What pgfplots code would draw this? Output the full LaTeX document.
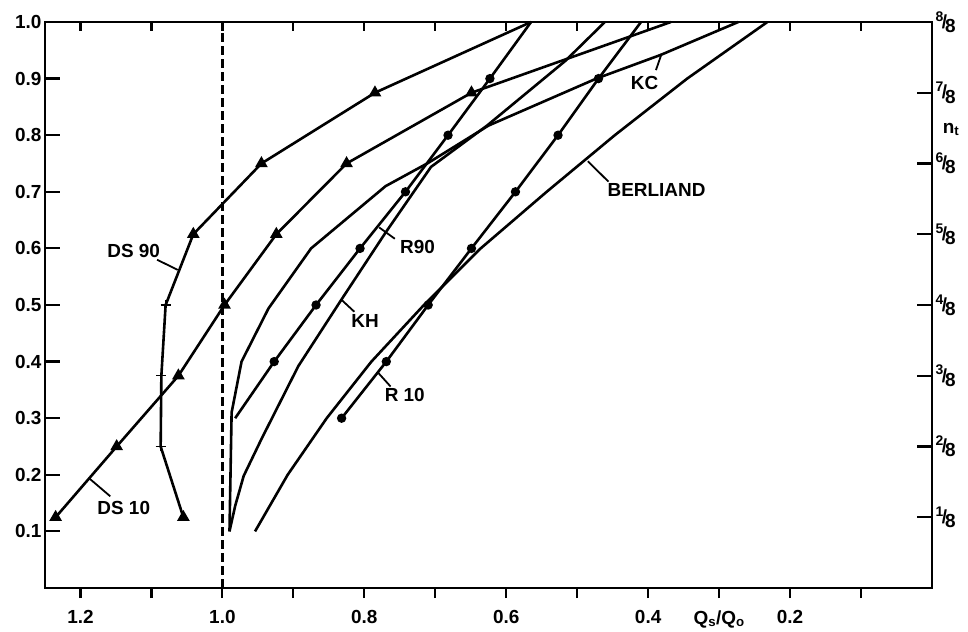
\documentclass[border=0pt]{standalone}
\usepackage{fontspec}
\setmainfont{Liberation Sans}
\usepackage{pgfplots}
\pgfplotsset{compat=1.18}
\newcommand\fr[2]{\raisebox{0.38em}{\fontsize{14}{14}\selectfont #1}\kern-0.08em/\kern-0.1em\raisebox{-0.22em}{#2}}
\newcommand\lab{\bfseries\fontsize{19}{19}\selectfont}
\pgfplotsset{common/.style={scale only axis, width=887bp, height=566bp,
  xmin=0, xmax=1.25, ymin=0, ymax=1, x dir=reverse, clip=false,
  at={(0,0)}, anchor=south west,
  ticklabel style={font=\lab},
  axis line style={line width=2.8bp},
  tick style={line width=2.2bp, black}}}
\begin{document}
\begin{tikzpicture}
% main axis with data and left ticks
\begin{axis}[common, name=ax, xtick=\empty,
  ytick={0.1,0.2,0.3,0.4,0.5,0.6,0.7,0.8,0.9,1.0},
  yticklabels={0.1,0.2,0.3,0.4,0.5,0.6,0.7,0.8,0.9,1.0},
  ytick pos=left, tick align=inside, major tick length=15bp,
  every axis plot/.append style={line width=2.6bp, black}]
% reference line at Qs/Qo = 1
\addplot[line width=2.4bp, dash pattern=on 9bp off 4bp] coordinates {(1,0) (1,1)};
% DS 90
\addplot[mark=none] coordinates {(1.055,0.125) (1.087,0.25) (1.086,0.375) (1.080,0.5) (1.041,0.625) (0.945,0.75) (0.785,0.875) (0.565,1.0)};
\addplot[only marks, mark=triangle*, mark size=4.8bp] coordinates {(1.055,0.125) (1.041,0.625) (0.945,0.75) (0.785,0.875)};
\addplot[only marks, mark=+, mark size=5bp, mark options={line width=1.4bp}] coordinates {(1.087,0.25) (1.086,0.375) (1.080,0.5)};
% DS 10
\addplot[mark=triangle*, mark size=4.8bp] coordinates {(1.235,0.125) (1.149,0.25) (1.062,0.375) (0.997,0.5) (0.924,0.625) (0.825,0.75) (0.649,0.875)};
\addplot[mark=none] coordinates {(0.649,0.875) (0.368,1.0)};
% R 90
\addplot[mark=none] coordinates {(0.982,0.3) (0.927,0.4) (0.868,0.5) (0.806,0.6) (0.742,0.7) (0.682,0.8) (0.623,0.9) (0.565,1.0)};
\addplot[only marks, mark=*, mark size=3.3bp] coordinates {(0.927,0.4) (0.868,0.5) (0.806,0.6) (0.742,0.7) (0.682,0.8) (0.623,0.9)};
% R 10
\addplot[mark=none] coordinates {(0.832,0.3) (0.769,0.4) (0.710,0.5) (0.649,0.6) (0.587,0.7) (0.527,0.8) (0.470,0.9) (0.410,1.0)};
\addplot[only marks, mark=*, mark size=3.3bp] coordinates {(0.832,0.3) (0.769,0.4) (0.710,0.5) (0.649,0.6) (0.587,0.7) (0.527,0.8) (0.470,0.9)};
% KC
\addplot[mark=none] coordinates {(0.990,0.10) (0.987,0.31) (0.973,0.40) (0.935,0.494) (0.875,0.60) (0.770,0.71) (0.710,0.751) (0.625,0.817) (0.473,0.90) (0.382,0.942) (0.273,1.0)};
% KH
\addplot[mark=none] coordinates {(0.990,0.10) (0.982,0.145) (0.970,0.198) (0.945,0.263) (0.893,0.392) (0.832,0.51) (0.770,0.628) (0.706,0.744) (0.627,0.817) (0.517,0.931) (0.461,1.0)};
% Berliand
\addplot[mark=none] coordinates {(0.954,0.1) (0.908,0.2) (0.853,0.3) (0.790,0.4) (0.716,0.5) (0.636,0.6) (0.543,0.7) (0.447,0.8) (0.345,0.9) (0.232,1.0)};
% labels
\node[font=\lab] at (axis cs:1.125,0.595) {DS 90};
\draw[line width=1.8bp] (axis cs:1.092,0.580) -- (axis cs:1.063,0.562);
\node[font=\lab] at (axis cs:1.139,0.142) {DS 10};
\draw[line width=1.8bp] (axis cs:1.158,0.162) -- (axis cs:1.187,0.193);
\node[font=\lab] at (axis cs:0.725,0.603) {R90};
\draw[line width=1.8bp] (axis cs:0.757,0.617) -- (axis cs:0.779,0.637);
\node[font=\lab] at (axis cs:0.799,0.4725) {KH};
\draw[line width=1.8bp] (axis cs:0.814,0.488) -- (axis cs:0.832,0.509);
\node[font=\lab] at (axis cs:0.743,0.341) {R 10};
\draw[line width=1.8bp] (axis cs:0.763,0.356) -- (axis cs:0.781,0.381);
\node[font=\lab] at (axis cs:0.405,0.893) {KC};
\draw[line width=1.8bp] (axis cs:0.389,0.915) -- (axis cs:0.381,0.944);
\node[font=\lab, anchor=west] at (axis cs:0.462,0.704) {BERLIAND};
\draw[line width=1.8bp] (axis cs:0.456,0.718) -- (axis cs:0.485,0.754);
\node[font=\lab, xshift=19bp] at (axis cs:0,0.81) {n\textsubscript{t}};
\end{axis}
% top ticks (inside), drawn in absolute coordinates of the axis box
\foreach \v in {0.1,0.2,0.3,0.4,0.5,0.6,0.7,0.8,0.9,1.0,1.1,1.2}{
  \draw[line width=2.2bp] ({(1.25-\v)*887/1.25*1bp},566bp) -- ++(0,-9bp);
}
% bottom ticks and labels
\begin{axis}[common, axis x line*=bottom, hide y axis,
  xtick={0.1,0.2,0.3,0.4,0.5,0.6,0.7,0.8,0.9,1.0,1.1,1.2},
  xticklabels={,0.2,Q\textsubscript{s}/Q\textsubscript{o},0.4,,0.6,,0.8,,1.0,,1.2},
  xticklabel style={yshift=-9bp},
  tick align=outside, major tick length=10bp]
\end{axis}
% right n_t axis
\begin{axis}[common, axis y line*=right, hide x axis,
  ytick={0.125,0.25,0.375,0.5,0.625,0.75,0.875,1},
  yticklabels={\fr18,\fr28,\fr38,\fr48,\fr58,\fr68,\fr78,\fr88},
  tick align=inside, major tick length=15bp]
\end{axis}
\pgfresetboundingbox
\path[use as bounding box] ([shift={(-45bp,-44bp)}]ax.south west) rectangle ([shift={(36bp,22bp)}]ax.north east);
\end{tikzpicture}
\end{document}
